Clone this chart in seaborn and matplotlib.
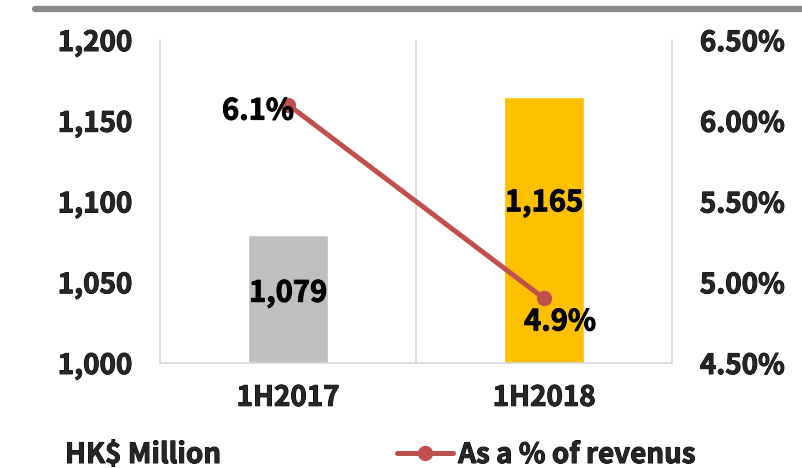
"""
Bar + line combo: profit in HK$ million with share of revenue on a second axis.
"""
import matplotlib.pyplot as plt
import matplotlib.lines as mlines
import matplotlib.patheffects as pe
import matplotlib.text as mtext
import pandas as pd
import seaborn as sns

PERIODS = ["1H2017", "1H2018"]
VALUES = [1079, 1165]
PCT = [6.1, 4.9]
BAR_COLORS = ["#BFBFBF", "#FFC000"]
LINE_COLOR = "#C0504D"
GRID = "#D9D9D9"

LEFT_TICKS = [1000, 1050, 1100, 1150, 1200]
RIGHT_TICKS = [4.5, 5.0, 5.5, 6.0, 6.5]

FONT = ["Noto Sans CJK KR", "DejaVu Sans"]
FS = 20
WEIGHT = "bold"


def main():
    sns.set_theme(style="white")
    plt.rcParams["font.family"] = FONT
    plt.rcParams["font.weight"] = WEIGHT

    df = pd.DataFrame({"period": PERIODS, "value": VALUES, "pct": PCT})

    fig = plt.figure(figsize=(8.02, 4.68), dpi=100)
    ax = fig.add_axes([0.1995, 0.2244, 0.6385, 0.6901])

    sns.barplot(data=df, x="period", y="value", hue="period",
                palette=BAR_COLORS, width=0.31, legend=False, ax=ax,
                saturation=1)
    ax.set_ylim(LEFT_TICKS[0], LEFT_TICKS[-1])
    ax.set_xlim(-0.5, len(PERIODS) - 0.5)
    ax.set_yticks(LEFT_TICKS)
    ax.set_yticklabels([f"{v:,}" for v in LEFT_TICKS], fontweight=WEIGHT)
    ax.set_xticks(range(len(PERIODS)))
    ax.set_xticklabels(PERIODS, fontweight=WEIGHT)
    ax.set_xlabel("")
    ax.set_ylabel("")
    ax.tick_params(axis="y", length=0, pad=20, labelsize=FS)
    ax.tick_params(axis="x", length=0, pad=15, labelsize=FS)
    ax.axvline(0.5, color=GRID, lw=1.2, zorder=0)
    for side in ["left", "right", "bottom"]:
        ax.spines[side].set_color(GRID)
        ax.spines[side].set_linewidth(1.2)
    ax.spines["top"].set_visible(False)

    # bar value labels, nudged up as in the source
    bar_offsets = [6, 27]
    for i, (v, off) in enumerate(zip(VALUES, bar_offsets)):
        ax.annotate(f"{v:,}", (i, (LEFT_TICKS[0] + v) / 2), xytext=(0, off),
                    textcoords="offset pixels", ha="center", va="center",
                    fontsize=FS + 1, fontweight=WEIGHT, color="black")

    ax2 = ax.twinx()
    line, = ax2.plot(range(len(PERIODS)), df["pct"], color=LINE_COLOR, lw=3.6,
                     marker="o", markersize=10, solid_capstyle="round")
    ax2.set_ylim(RIGHT_TICKS[0], RIGHT_TICKS[-1])
    ax2.set_yticks(RIGHT_TICKS)
    ax2.set_yticklabels([f"{v:.2f}%" for v in RIGHT_TICKS], fontweight=WEIGHT)
    ax2.tick_params(axis="y", length=0, pad=20, labelsize=FS)
    for side in ["left", "right", "bottom", "top"]:
        ax2.spines[side].set_visible(False)
    ax2.grid(False)

    pct_offsets = [(-30, -6), (16, -23)]
    for i, (p, off) in enumerate(zip(PCT, pct_offsets)):
        ax2.annotate(f"{p:.1f}%", (i, p), xytext=off, textcoords="offset pixels",
                     ha="center", va="center", fontsize=FS + 1,
                     fontweight=WEIGHT, color="black")

    # grey rule across the top
    fig.add_artist(mlines.Line2D([35 / 802, 1.0], [1 - 9 / 468] * 2,
                                 color="#888888", lw=4.5,
                                 transform=fig.transFigure))

    fig.text(65 / 802, 1 - 455 / 468, "HK$ Million", ha="left", va="center",
             fontsize=FS, fontweight=WEIGHT)
    fig.legend(handles=[line], labels=["As a % of revenus"],
               loc="center left", bbox_to_anchor=(386 / 802, 1 - 455 / 468),
               frameon=False, handlelength=2.0, handletextpad=0.2,
               borderaxespad=0, prop={"size": FS, "weight": WEIGHT})

    # the source font is a touch heavier, thicken the glyphs slightly
    for t in fig.findobj(mtext.Text):
        if t.get_text():
            t.set_path_effects([pe.withStroke(linewidth=0.7, foreground="black")])

    fig.savefig("out.png", dpi=100)
    plt.close(fig)


if __name__ == "__main__":
    main()
